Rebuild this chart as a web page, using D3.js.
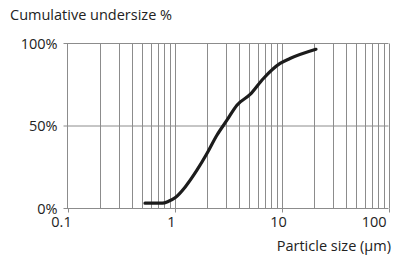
<!DOCTYPE html>
<html>
<head>
<meta charset="utf-8">
<script src="https://cdn.jsdelivr.net/npm/d3@7"></script>
<style>
  body { margin: 0; background: #fff; }
  text { font-family: "Open Sans", sans-serif; fill: #222; }
</style>
</head>
<body>
<script>
// particle size distribution
const sizes = [0.53, 0.77, 0.88, 1.02, 1.26, 1.62, 2.01, 2.49, 3.09, 3.83, 5.09, 6.78, 9.7, 12.0, 21.0];
const undersize = [3.2, 3.2, 4.4, 6.7, 13.1, 23.2, 33.3, 44.4, 53.5, 62.6, 69.1, 78.8, 87.9, 90.9, 96.5];
const xTicks = [0.1, 1, 10, 100];
const yTicks = [0, 50, 100];

const width = 397, height = 259;
const margin = { top: 43.5, right: 8.5, bottom: 50.5, left: 67.5 };
const fs = 14.5;

const svg = d3.select("body").append("svg")
  .attr("width", width)
  .attr("height", height);

const x = d3.scaleLog().domain([0.1, 100]).range([margin.left, width - margin.right]);
const y = d3.scaleLinear().domain([0, 100]).range([height - margin.bottom, margin.top]);

// vertical grid at every 1..9 of each decade
const gridVals = [];
[0.1, 1, 10].forEach(d => { for (let k = 2; k <= 10; k++) gridVals.push(d * k); });

svg.append("g")
  .selectAll("line")
  .data(gridVals)
  .enter()
  .append("line")
  .attr("x1", d => Math.round(x(d)) + 0.5)
  .attr("x2", d => Math.round(x(d)) + 0.5)
  .attr("y1", y(100))
  .attr("y2", y(0))
  .attr("stroke", "#8c8c8c")
  .attr("stroke-width", 1);

// horizontal grid + left ticks
svg.append("g")
  .selectAll("line")
  .data(yTicks)
  .enter()
  .append("line")
  .attr("x1", x(0.1) - 4)
  .attr("x2", x(100))
  .attr("y1", d => y(d))
  .attr("y2", d => y(d))
  .attr("stroke", "#8c8c8c");

// left axis line
svg.append("line")
  .attr("x1", x(0.1)).attr("x2", x(0.1))
  .attr("y1", y(100)).attr("y2", y(0))
  .attr("stroke", "#8c8c8c");

// bottom major ticks
svg.append("g")
  .selectAll("line")
  .data(xTicks)
  .enter()
  .append("line")
  .attr("x1", d => Math.round(x(d)) + 0.5)
  .attr("x2", d => Math.round(x(d)) + 0.5)
  .attr("y1", y(0))
  .attr("y2", y(0) + 4)
  .attr("stroke", "#8c8c8c");

svg.append("g")
  .selectAll("text")
  .data(yTicks)
  .enter()
  .append("text")
  .attr("x", x(0.1) - 10)
  .attr("y", d => y(d) + 5)
  .attr("text-anchor", "end")
  .attr("font-size", fs)
  .text(d => d + "%");

svg.append("g")
  .selectAll("text")
  .data(xTicks)
  .enter()
  .append("text")
  .attr("x", d => d === 100 ? x(d) - 2 : x(d) - (d < 1 ? 6 : 3))
  .attr("y", y(0) + 18)
  .attr("text-anchor", d => d === 100 ? "end" : "middle")
  .attr("font-size", fs)
  .text(d => d3.format("~g")(d));

svg.append("text")
  .attr("x", 10)
  .attr("y", 20)
  .attr("font-size", fs)
  .text("Cumulative undersize %");

svg.append("text")
  .attr("x", width - 6)
  .attr("y", 251)
  .attr("text-anchor", "end")
  .attr("font-size", fs)
  .text("Particle size (\u00b5m)");

const pts = sizes.map((s, i) => [s, undersize[i]]);
const line = d3.line()
  .x(d => x(d[0]))
  .y(d => y(d[1]))
  .curve(d3.curveMonotoneX);

svg.append("path")
  .datum(pts)
  .attr("d", line)
  .attr("fill", "none")
  .attr("stroke", "#1c1c1c")
  .attr("stroke-width", 3.2)
  .attr("stroke-linecap", "round")
  .attr("stroke-linejoin", "round");
</script>
</body>
</html>
